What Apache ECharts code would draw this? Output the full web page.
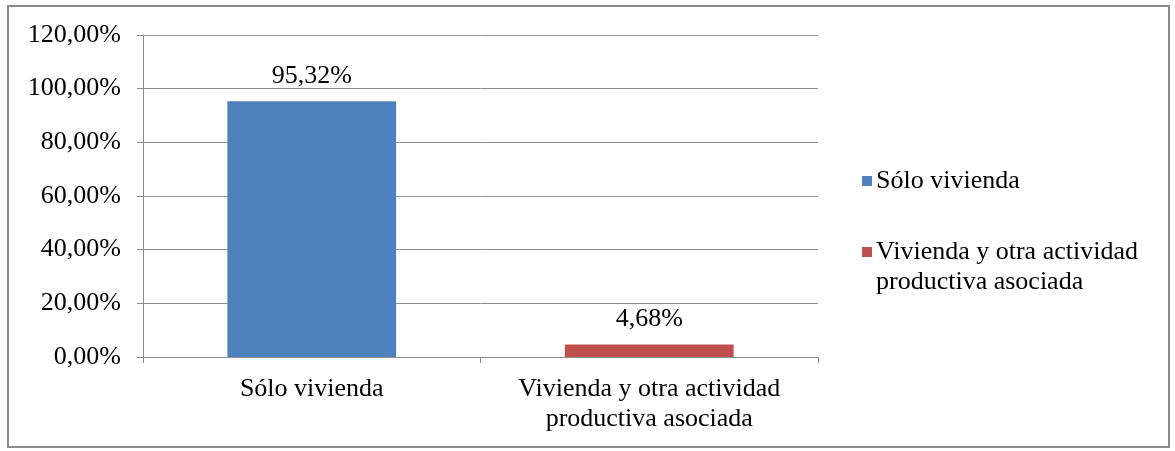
<!DOCTYPE html>
<html>
<head>
<meta charset="utf-8">
<script src="https://cdn.jsdelivr.net/npm/echarts@6/dist/echarts.min.js"></script>
<style>
  html, body { margin: 0; padding: 0; background: #fff; }
  #frame {
    position: absolute; left: 7px; top: 5px; width: 1163px; height: 443px;
    border: 2px solid #8c8c8c; box-sizing: border-box;
  }
  #chart { position: absolute; left: 0; top: 0; width: 1175px; height: 451px; }
</style>
</head>
<body>
<div id="frame"></div>
<div id="chart"></div>
<script>
  // datos
  var categories = ['Sólo vivienda', 'Vivienda y otra actividad\nproductiva asociada'];
  var seriesNames = ['Sólo vivienda', 'Vivienda y otra actividad\nproductiva asociada'];
  var soloVivienda = [95.32, null];
  var viviendaActividad = [null, 4.68];

  var font = 'Liberation Serif';
  var fs = 26;
  var pct = function (v) { return v.toFixed(2).replace('.', ',') + '%'; };

  var chart = echarts.init(document.getElementById('chart'));
  var barLabel = {
    show: true,
    position: 'top',
    distance: 12,
    fontFamily: font,
    fontSize: fs,
    color: '#000',
    formatter: function (p) { return pct(p.value); }
  };
  var option = {
    animation: false,
    textStyle: { fontFamily: font },
    grid: { left: 143, right: 357, top: 35, bottom: 94 },
    legend: {
      orient: 'vertical',
      left: 857,
      top: 161,
      itemGap: 11,
      itemWidth: 10,
      itemHeight: 10,
      icon: 'rect',
      data: seriesNames,
      // linea vacia arriba para que el icono quede en la primera linea
      formatter: function (name) {
        return name === seriesNames[1] ? ' \n' + name : name;
      },
      textStyle: { fontFamily: font, fontSize: fs, color: '#000', lineHeight: 30, padding: [0, 0, 0, -1] }
    },
    xAxis: {
      type: 'category',
      data: categories,
      axisLine: { lineStyle: { color: '#8c8c8c', width: 1 } },
      axisTick: { show: true, length: 6, lineStyle: { color: '#8c8c8c' } },
      axisLabel: { fontFamily: font, fontSize: fs, color: '#000', lineHeight: 30, margin: 17, interval: 0 }
    },
    yAxis: {
      type: 'value',
      min: 0,
      max: 120,
      interval: 20,
      axisLine: { show: true, lineStyle: { color: '#8c8c8c' } },
      axisTick: { show: true, length: 6, lineStyle: { color: '#8c8c8c' } },
      splitLine: { lineStyle: { color: '#8c8c8c' } },
      axisLabel: { fontFamily: font, fontSize: fs, color: '#000', margin: 22, formatter: pct }
    },
    series: [
      {
        name: seriesNames[0],
        type: 'bar',
        data: soloVivienda,
        barWidth: '50%',
        barGap: '-100%',
        itemStyle: { color: '#4f81bd' },
        label: barLabel
      },
      {
        name: seriesNames[1],
        type: 'bar',
        data: viviendaActividad,
        barWidth: '50%',
        barGap: '-100%',
        itemStyle: { color: '#c0504d' },
        label: barLabel
      }
    ]
  };
  chart.setOption(option);
</script>
</body>
</html>
